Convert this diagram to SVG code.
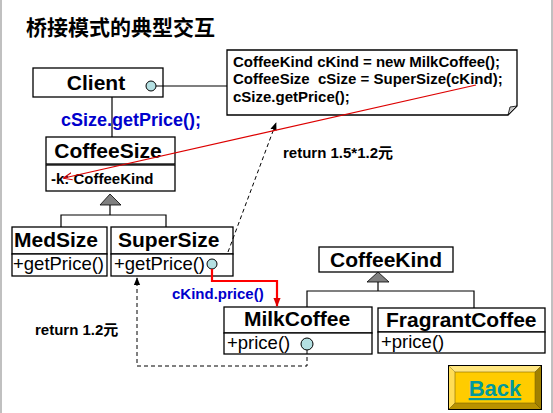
<svg xmlns="http://www.w3.org/2000/svg" width="553" height="413" viewBox="0 0 553 413">
<defs>
<style>
.box{fill:#fff;stroke:#000;stroke-width:1.3}
.cls{font-family:"Liberation Sans",Arial,sans-serif;font-weight:bold;font-size:21px;fill:#000}
.op{font-family:"Liberation Sans",Arial,sans-serif;font-size:18.5px;fill:#000}
.b13{font-family:"Liberation Sans",Arial,sans-serif;font-weight:bold;font-size:15px;fill:#000}
.blue{font-family:"Liberation Sans",Arial,sans-serif;font-weight:bold;fill:#0000cc}
.ball{fill:#b4e0e2;stroke:#000;stroke-width:1}
.ln{fill:none;stroke:#000;stroke-width:1.2}
.dash{fill:none;stroke:#000;stroke-width:1;stroke-dasharray:4,3}
.tri{fill:#808080;stroke:#000;stroke-width:0.8}
</style>
<marker id="arrBlk" viewBox="0 0 10 10" refX="9" refY="5" markerWidth="8" markerHeight="8" orient="auto" markerUnits="userSpaceOnUse"><path d="M0,1 L10,5 L0,9 z" fill="#000"/></marker>
<marker id="arrRed" viewBox="0 0 10 10" refX="9" refY="5" markerWidth="9" markerHeight="9" orient="auto" markerUnits="userSpaceOnUse"><path d="M0,1 L10,5 L0,9 z" fill="#e00000"/></marker>
<marker id="arrRedOpen" viewBox="0 0 10 10" refX="9" refY="5" markerWidth="9" markerHeight="9" orient="auto" markerUnits="userSpaceOnUse"><path d="M0,1 L10,5 L0,9" fill="none" stroke="#cc0000" stroke-width="1.2"/></marker>
</defs>
<rect x="0" y="0" width="553" height="413" fill="#fff"/>
<line x1="1" y1="0" x2="1" y2="413" stroke="#c0c0c0" stroke-width="2"/>
<line x1="552" y1="0" x2="552" y2="413" stroke="#c0c0c0" stroke-width="2"/>

<text x="26" y="35" font-family="'Noto Sans CJK SC',sans-serif" font-weight="bold" font-size="21" fill="#000">桥接模式的典型交互</text>

<g id="note">
<path d="M227,50 L517,50 L517,106 L508,115 L227,115 Z" fill="#fff" stroke="#000" stroke-width="1.3"/>
<path d="M517,106 L510,107 L508,115 Z" fill="#c8c8c8" stroke="#000" stroke-width="0.8"/>
<text class="b13" x="233" y="67">CoffeeKind cKind = new MilkCoffee();</text>
<text class="b13" x="233" y="84" xml:space="preserve">CoffeeSize  cSize = SuperSize(cKind);</text>
<text class="b13" x="233" y="102">cSize.getPrice();</text>
</g>

<g id="client">
<rect class="box" x="33" y="68" width="130" height="29"/>
<text class="cls" x="96" y="90" text-anchor="middle">Client</text>
<circle class="ball" cx="151" cy="86" r="5"/>
</g>

<g id="coffeeSize">
<rect class="box" x="46" y="137" width="129" height="27"/>
<rect class="box" x="46" y="165" width="129" height="26"/>
<text class="cls" x="108" y="158" text-anchor="middle">CoffeeSize</text>
<text class="b13" x="51" y="184">-k: CoffeeKind</text>
</g>

<g id="medSize">
<rect class="box" x="12" y="227" width="95" height="27"/>
<rect class="box" x="12" y="254" width="95" height="22"/>
<text class="cls" x="14" y="247">MedSize</text>
<text class="op" x="13" y="270">+getPrice()</text>
</g>

<g id="superSize">
<rect class="box" x="111" y="227" width="122" height="27"/>
<rect class="box" x="111" y="254" width="122" height="22"/>
<text class="cls" x="118" y="247">SuperSize</text>
<text class="op" x="114" y="270">+getPrice()</text>
<circle class="ball" cx="212" cy="264" r="5"/>
</g>

<g id="coffeeKind">
<rect class="box" x="319" y="247" width="134" height="25"/>
<text class="cls" x="386" y="267" text-anchor="middle">CoffeeKind</text>
</g>

<g id="milkCoffee">
<rect class="box" x="224" y="307" width="148" height="26"/>
<rect class="box" x="224" y="333" width="148" height="21"/>
<text class="cls" x="297" y="326" text-anchor="middle">MilkCoffee</text>
<text class="op" x="227" y="349">+price()</text>
<circle class="ball" cx="307" cy="344" r="6"/>
</g>

<g id="fragrantCoffee">
<rect class="box" x="378" y="308" width="167" height="24"/>
<rect class="box" x="378" y="332" width="167" height="21"/>
<text class="cls" x="386" y="327">FragrantCoffee</text>
<text class="op" x="381" y="348">+price()</text>
</g>

<g id="connectors">
<line class="ln" x1="156" y1="86" x2="227" y2="86"/>
<line class="ln" x1="112" y1="97" x2="112" y2="137"/>
<polygon class="tri" points="110,194 100,205 121,205"/>
<polyline class="ln" points="110,205 110,215"/>
<polyline class="ln" points="61,227 61,215 166,215 166,227"/>
<polygon class="tri" points="378,272 367,282 389,282"/>
<polyline class="ln" points="378,282 378,291"/>
<polyline class="ln" points="307,307 307,291 474,291 474,308"/>
<line class="dash" x1="228" y1="252" x2="276" y2="123" marker-end="url(#arrBlk)"/>
<line x1="476" y1="85" x2="64" y2="178" stroke="#dd0000" stroke-width="1.2" marker-end="url(#arrRedOpen)"/>
<polyline points="212,269 212,281 277,281 277,306" fill="none" stroke="#ff0000" stroke-width="2.2" marker-end="url(#arrRed)"/>
<polyline class="dash" points="307,350 307,366 137,366 137,278" marker-end="url(#arrBlk)"/>
</g>

<text class="blue" x="61" y="126" font-size="18">cSize.getPrice();</text>
<text class="b13" x="283" y="158">return 1.5*1.2<tspan font-family="'Noto Sans CJK SC',sans-serif">元</tspan></text>
<text class="blue" x="172" y="299" font-size="15">cKind.price()</text>
<text class="b13" x="35" y="335">return 1.2<tspan font-family="'Noto Sans CJK SC',sans-serif">元</tspan></text>

<g id="back">
<rect x="448" y="365" width="94" height="45" fill="#000"/>
<polygon points="449,366 541,366 535,372 455,372" fill="#ffe680"/>
<polygon points="449,366 455,372 455,403 449,409" fill="#ffdd55"/>
<polygon points="541,366 541,409 535,403 535,372" fill="#a08000"/>
<polygon points="449,409 455,403 535,403 541,409" fill="#b89200"/>
<rect x="455" y="372" width="80" height="31" fill="#ffcc00" stroke="#806600" stroke-width="0.6"/>
<text x="495" y="396" text-anchor="middle" font-family="'Liberation Sans',Arial,sans-serif" font-weight="bold" font-size="22" fill="#00999c" text-decoration="underline">Back</text>
</g>
</svg>
